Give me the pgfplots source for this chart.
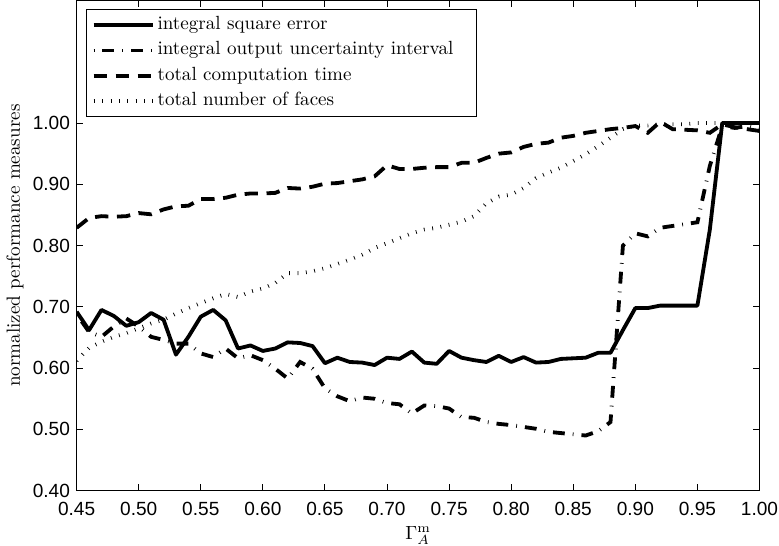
\documentclass[border=0pt]{standalone}
\usepackage{fontspec}
\newfontfamily\helv{Liberation Sans}
\usepackage{pgfplots}
\pgfplotsset{compat=1.18}

% series: x = Gamma_A^m, one column per measure
\pgfplotstableread{
x     ise    ioui   time   faces
0.45  0.692  0.688  0.829  0.612
0.46  0.662  0.659  0.845  0.633
0.47  0.695  0.651  0.848  0.643
0.48  0.685  0.668  0.847  0.651
0.49  0.669  0.681  0.848  0.657
0.50  0.675  0.668  0.853  0.665
0.51  0.690  0.651  0.851  0.673
0.52  0.679  0.646  0.859  0.679
0.53  0.622  0.640  0.864  0.689
0.54  0.651  0.640  0.865  0.698
0.55  0.684  0.624  0.876  0.706
0.56  0.695  0.618  0.876  0.714
0.57  0.678  0.632  0.878  0.721
0.58  0.632  0.616  0.883  0.716
0.59  0.637  0.621  0.885  0.725
0.60  0.628  0.613  0.885  0.730
0.61  0.632  0.599  0.886  0.739
0.62  0.642  0.583  0.894  0.755
0.63  0.641  0.610  0.893  0.755
0.64  0.636  0.599  0.896  0.758
0.65  0.608  0.567  0.901  0.763
0.66  0.617  0.554  0.902  0.770
0.67  0.610  0.546  0.905  0.777
0.68  0.609  0.552  0.908  0.785
0.69  0.605  0.550  0.913  0.796
0.70  0.617  0.543  0.931  0.804
0.71  0.615  0.541  0.925  0.812
0.72  0.627  0.526  0.925  0.820
0.73  0.609  0.539  0.927  0.826
0.74  0.607  0.538  0.928  0.829
0.75  0.628  0.534  0.928  0.834
0.76  0.617  0.520  0.935  0.839
0.77  0.613  0.519  0.935  0.848
0.78  0.610  0.512  0.943  0.869
0.79  0.620  0.509  0.950  0.880
0.80  0.610  0.507  0.952  0.883
0.81  0.618  0.504  0.961  0.894
0.82  0.609  0.501  0.966  0.910
0.83  0.610  0.496  0.968  0.919
0.84  0.615  0.494  0.976  0.927
0.85  0.616  0.492  0.979  0.938
0.86  0.617  0.490  0.984  0.949
0.87  0.625  0.497  0.987  0.962
0.88  0.625  0.512  0.990  0.976
0.89  0.662  0.800  0.992  0.990
0.90  0.698  0.820  0.995  0.996
0.91  0.698  0.815  0.984  0.996
0.92  0.702  0.829  1.002  0.998
0.93  0.702  0.832  0.990  0.998
0.94  0.702  0.835  0.989  0.998
0.95  0.702  0.838  0.988  1.000
0.96  0.826  0.930  0.984  1.000
0.97  1.000  0.995  0.998  1.000
0.98  1.000  0.992  0.993  1.000
0.99  1.000  0.995  0.990  1.000
1.00  1.000  0.990  0.987  1.000
}\perf

\begin{document}
\begin{tikzpicture}
\begin{axis}[
    scale only axis,
    width=358pt, height=257pt,
    xmin=0.45, xmax=1.00,
    ymin=0.40, ymax=1.20,
    xtick={0.45,0.50,...,1.001},
    ytick={0.40,0.50,...,1.001},
    tick align=inside,
    xtick pos=both, ytick pos=both,
    major tick length=3.5pt,
    axis line style={line width=0.5pt},
    every tick/.style={black, line width=0.5pt},
    ticklabel style={font=\helv},
    /pgf/number format/assume math mode=true,
    xticklabel style={yshift=-2.5pt, inner xsep=0.5pt, /pgf/number format/.cd, fixed, fixed zerofill, precision=2},
    yticklabel style={/pgf/number format/.cd, fixed, fixed zerofill, precision=2},
    xlabel={$\Gamma_A^{\mathrm{m}}$},
    xlabel style={at={(axis description cs:0.5,0)}, anchor=north, yshift=-18pt, inner sep=0.5pt},
    ylabel={normalized performance measures},
    ylabel style={yshift=-2pt},
    legend cell align=left,
    legend image code/.code={\draw[#1] (0pt,0pt) -- (31pt,0pt);},
    legend style={at={(0,1)}, anchor=north west, xshift=4.7pt, yshift=-4.7pt,
                  draw=black, line width=0.5pt, inner xsep=3pt, inner ysep=1.5pt,
                  nodes={text height=7pt, text depth=2.5pt, inner ysep=1.85pt,
                         inner xsep=1.5pt}}
]
\addplot[black, line width=2pt, line join=round] table[x=x, y=ise] {\perf};
\addlegendentry{integral square error}
\addplot[black, line width=2pt, dash pattern=on 0.4pt off 4.2pt on 6.2pt off 4.2pt] table[x=x, y=ioui] {\perf};
\addlegendentry{integral output uncertainty interval}
\addplot[black, line width=2pt, dash pattern=on 7pt off 4.5pt] table[x=x, y=time] {\perf};
\addlegendentry{total computation time}
\addplot[black, line width=2pt, dash pattern=on 0.4pt off 4pt] table[x=x, y=faces] {\perf};
\addlegendentry{total number of faces\hspace*{70pt}}
\end{axis}
\end{tikzpicture}
\end{document}
